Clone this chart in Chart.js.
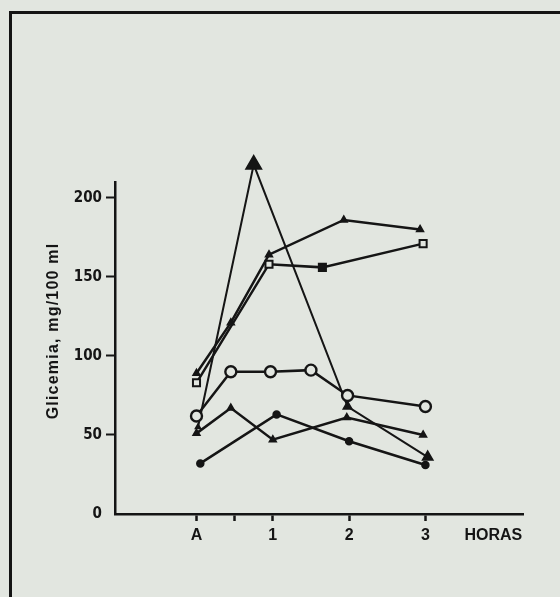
<!DOCTYPE html>
<html>
<head>
<meta charset="utf-8">
<script src="https://cdn.jsdelivr.net/npm/chart.js@4.4.1/dist/chart.umd.min.js"></script>
<style>
    html, body { margin: 0; padding: 0; background: #e2e6e0; }
    .wrap { position: relative; width: 560px; height: 597px; overflow: hidden; }
    .frame { position: absolute; left: 9px; top: 11px; width: 600px; height: 600px;
             border-top: 3px solid #141414; border-left: 3px solid #141414; }
    canvas { position: absolute; left: 0; top: 0; }
</style>
</head>
<body>
<div class="wrap">
    <div class="frame"></div>
    <canvas id="chart" width="560" height="597"></canvas>
</div>
<script>
// hours after the meal (A = antes / 0)
const xTickValues = [0, 0.5, 1, 2, 3, 3.89];
const xTickLabels = ['A', '', '1', '2', '3', 'HORAS'];
const yTickValues = [0, 50, 100, 150, 200];
const yTitle = 'Glicemia, mg/100 ml';

// six patients, each with own sampling hours
const s1Hours = [0, 0.45, 0.95, 1.93, 2.93];
const s1Values = [89, 121, 164, 186, 180];

const s2Hours = [0, 0.95, 1.65, 2.97];
const s2Values = [83, 158, 156, 171];

const s3Hours = [0, 0.45, 0.97, 1.5, 1.98, 3];
const s3Values = [62, 90, 90, 91, 75, 68];

const s4Hours = [0.02, 0.75, 1.98, 3.03];
const s4Values = [55, 221, 68, 36];

const s5Hours = [0, 0.45, 1, 1.97, 2.97];
const s5Values = [51, 67, 47, 61, 50];

const s6Hours = [0.05, 1.05, 2, 3];
const s6Values = [32, 63, 46, 31];

const INK = '#151515';
const BG = '#e2e6e0';

function toPoints(hours, values) {
    return hours.map((h, i) => ({ x: h, y: values[i] }));
}

function lineSet(hours, values, extra) {
    return Object.assign({
        data: toPoints(hours, values),
        borderColor: INK,
        borderWidth: 2.5,
        pointBorderColor: INK,
        pointBackgroundColor: INK,
        pointBorderWidth: 1.5,
        pointRadius: 4,
        tension: 0,
        fill: false,
        clip: false,
    }, extra);
}

const yTitlePlugin = {
    id: 'yTitle',
    afterDraw(chart) {
        const ctx = chart.ctx;
        ctx.save();
        ctx.translate(54, 331);
        ctx.rotate(-Math.PI / 2);
        ctx.font = 'bold 16px "Liberation Sans", Arial, sans-serif';
        ctx.letterSpacing = '1.2px';
        ctx.fillStyle = INK;
        ctx.textAlign = 'center';
        ctx.textBaseline = 'middle';
        ctx.fillText(yTitle, 0, 0);
        ctx.restore();
    }
};

// points above the axis top (the 221 peak) are skipped by Chart.js, draw them anyway
const overflowPoints = {
    id: 'overflowPoints',
    afterDatasetsDraw(chart) {
        const top = chart.chartArea.top;
        chart.data.datasets.forEach((ds, i) => {
            chart.getDatasetMeta(i).data.forEach(pt => {
                if (pt.y < top + 2) pt.draw(chart.ctx);
            });
        });
    }
};

const ctx = document.getElementById('chart').getContext('2d');
new Chart(ctx, {
    type: 'line',
    data: {
        datasets: [
            lineSet(s1Hours, s1Values, { pointStyle: 'triangle' }),
            lineSet(s2Hours, s2Values, {
                pointStyle: 'rect',
                pointRadius: 5,
                pointBorderWidth: 2,
                pointBackgroundColor: [BG, BG, INK, BG],
            }),
            lineSet(s3Hours, s3Values, {
                pointStyle: 'circle',
                pointRadius: 5.5,
                pointBorderWidth: 2.4,
                pointBackgroundColor: BG,
            }),
            lineSet(s4Hours, s4Values, {
                pointStyle: 'triangle',
                borderWidth: 2,
                pointRadius: [3, 9, 5, 6],
            }),
            lineSet(s5Hours, s5Values, { pointStyle: 'triangle' }),
            lineSet(s6Hours, s6Values, { pointStyle: 'circle', pointRadius: 3.5 }),
        ]
    },
    options: {
        responsive: false,
        animation: false,
        layout: { padding: { top: 182, right: 37, left: 10, bottom: 20 } },
        plugins: {
            legend: { display: false },
            tooltip: { enabled: false },
        },
        scales: {
            x: {
                type: 'linear',
                min: -1.068,
                max: 4.279,
                afterBuildTicks: (scale) => {
                    scale.ticks = xTickValues.map(v => ({ value: v }));
                },
                afterFit: (scale) => { scale.height = 63; },
                ticks: {
                    autoSkip: false,
                    maxRotation: 0,
                    padding: 5,
                    color: INK,
                    font: { family: '"Liberation Sans", Arial, sans-serif', size: 16, weight: 'bold' },
                    callback: (value, index) => xTickLabels[index],
                },
                grid: {
                    drawOnChartArea: false,
                    drawTicks: true,
                    tickLength: 7,
                    tickWidth: 2.5,
                    tickColor: (c) => c.index === 5 ? 'rgba(0,0,0,0)' : INK,
                },
                border: { display: true, color: INK, width: 2.5 },
            },
            y: {
                min: 0,
                max: 210,
                afterBuildTicks: (scale) => {
                    scale.ticks = yTickValues.map(v => ({ value: v }));
                },
                afterFit: (scale) => { scale.width = 105; },
                ticks: {
                    padding: 4,
                    color: INK,
                    font: { family: '"Liberation Sans Narrow", "DejaVu Sans Condensed", sans-serif', size: 15, weight: 'bold' },
                },
                grid: {
                    drawOnChartArea: false,
                    drawTicks: true,
                    tickLength: 9,
                    tickWidth: 2,
                    tickColor: (c) => c.index === 0 ? 'rgba(0,0,0,0)' : INK,
                },
                border: { display: true, color: INK, width: 2.5 },
            }
        }
    },
    plugins: [yTitlePlugin, overflowPoints]
});
</script>
</body>
</html>
